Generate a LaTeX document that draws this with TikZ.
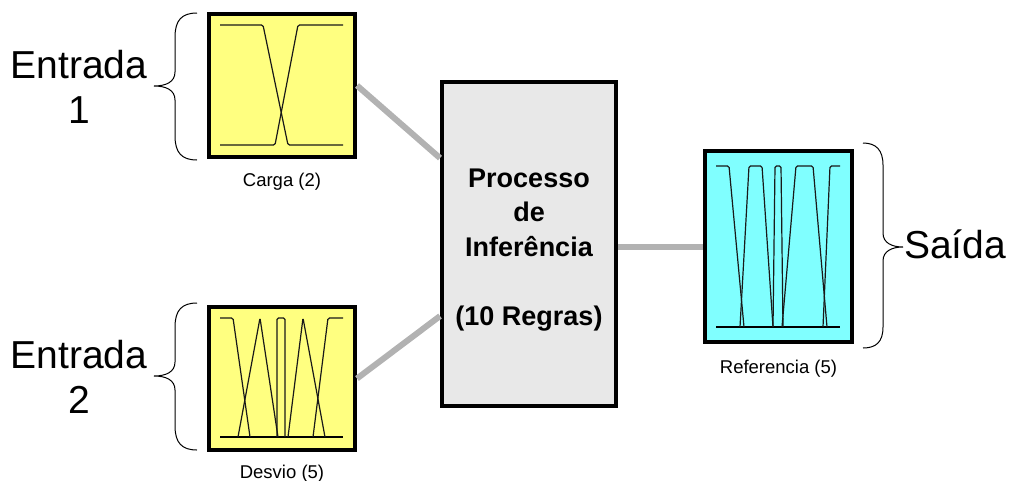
\documentclass[tikz,border=0pt]{standalone}
\usepackage{fontspec}
\setmainfont{Liberation Sans}
\usetikzlibrary{positioning}
\definecolor{fuzzyyellow}{RGB}{255,255,128}
\definecolor{fuzzycyan}{RGB}{128,255,255}
\definecolor{infgray}{RGB}{232,232,232}
\definecolor{linkgray}{RGB}{178,178,178}

\begin{document}
\begin{tikzpicture}[x=1pt,y=-1pt,
  varbox/.style={draw,line width=4pt,minimum width=146pt,minimum height=143pt,inner sep=0},
  mf/.style={line width=1.2pt,black!90,rounded corners=1.5pt},
  link/.style={line width=6pt,linkgray},
  caption/.style={inner sep=0,font=\fontsize{18.5}{22}\selectfont},
  big/.style={align=center,inner sep=0,font=\fontsize{39}{45}\selectfont}]
\useasboundingbox (0,0) rectangle (1011,480);

% blocos
\node[varbox,fill=fuzzyyellow] (carga) at (282,85.5) {};
\node[varbox,fill=fuzzyyellow] (desvio) at (282,378.5) {};
\node[varbox,fill=fuzzycyan,minimum width=147pt,minimum height=191pt] (ref) at (778.5,246.5) {};
\node[draw,line width=4pt,fill=infgray,minimum width=174pt,minimum height=324pt] (inf) at (529,244) {};
\node[align=center,inner sep=0,font=\fontsize{27}{34.5}\selectfont\bfseries] (inftxt) at (529,250)
  {Processo\\de\\Inferência\\[34.5pt](10 Regras)};

% ligacoes
\draw[link] (carga.east) -- (inf.136.7);
\draw[link] (desvio.east) -- (inf.219.2);
\draw[link] (inf.east |- ref.west) -- (ref.west);

% funcoes de pertinencia
\draw[mf] (220,25) -- (263,25) -- (288,145) -- (343,145);
\draw[mf] (220,145) -- (275,145) -- (298,25) -- (343,25);

\draw[line width=2pt] (220,437) -- (343,437);
\draw[mf] (220,318) -- (233,318) -- (250,437);
\draw[mf] (238,437) -- (260,318) -- (278,437);
\draw[mf] (277,437) -- (277,318) -- (285,318) -- (285,437);
\draw[mf] (288,437) -- (303,318) -- (325,437);
\draw[mf] (313,437) -- (328,318) -- (343,318);

\draw[line width=1.2pt] (716,327) -- (840,327);
\draw[mf] (716,166) -- (729,166) -- (744,327);
\draw[mf] (740,327) -- (749,166) -- (762,166) -- (773,327);
\draw[mf] (773,327) -- (775,166) -- (781,166) -- (783,327);
\draw[mf] (782,327) -- (796,166) -- (813,166) -- (827,327);
\draw[mf] (823,327) -- (830,166) -- (840,166);

% legendas
\node[caption,below=14pt of carga] (cargalbl) {Carga (2)};
\node[caption,below=12.5pt of desvio] (desviolbl) {Desvio (5)};
\node[caption,below=15.5pt of ref] (reflbl) {Referencia (5)};

% chaves
\draw[line width=1pt] (197,13) .. controls (182,13) and (175,20) .. (175,37) -- (175,72)
  .. controls (175,82) and (166,86) .. (154,86) .. controls (166,86) and (175,90) .. (175,100)
  -- (175,136) .. controls (175,153) and (182,160) .. (197,160);
\draw[line width=1pt] (197,303) .. controls (182,303) and (175,310) .. (175,327) -- (175,362)
  .. controls (175,372) and (166,376) .. (154,376) .. controls (166,376) and (175,380) .. (175,390)
  -- (175,426) .. controls (175,443) and (182,450) .. (197,450);
\draw[line width=1pt] (863,143) .. controls (876,143) and (883,150) .. (883,165) -- (883,233)
  .. controls (883,243) and (892,247) .. (903,247) .. controls (892,247) and (883,251) .. (883,261)
  -- (883,327) .. controls (883,342) and (876,348) .. (863,348);

\node[big] (ent1) at (79,86.5) {Entrada\\1};
\node[big] (ent2) at (79,376.5) {Entrada\\2};
\node[big,anchor=base west] (saida) at (904,258) {Saída};
\end{tikzpicture}
\end{document}
